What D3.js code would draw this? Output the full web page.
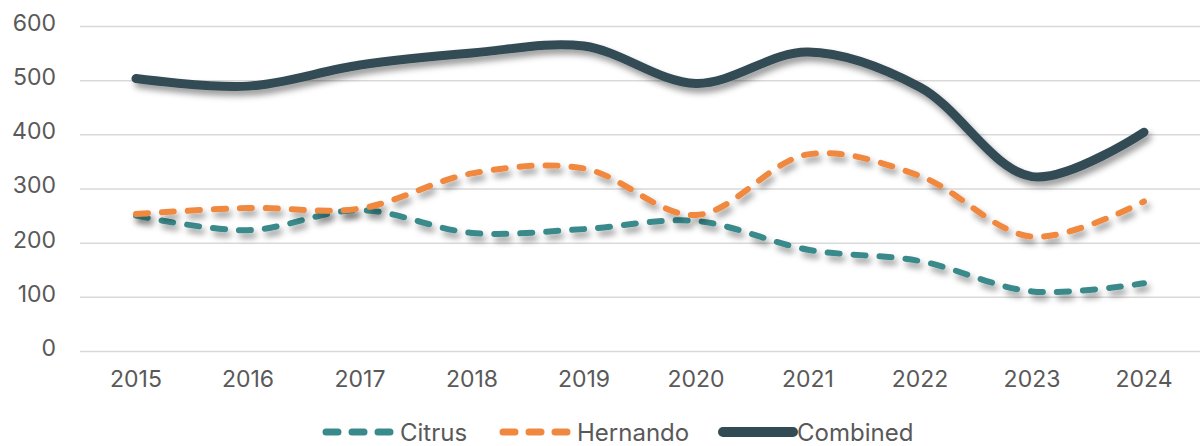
<!DOCTYPE html>
<html>
<head>
<meta charset="utf-8">
<script src="https://cdnjs.cloudflare.com/ajax/libs/d3/7.8.5/d3.min.js"></script>
<style>
  body { margin: 0; background: #fff; }
  text { font-family: Inter, "Noto Sans", sans-serif; fill: #595959; }
  .grid line { stroke: #D9D9D9; stroke-width: 1.5; }
  path.domain { display: none; }
</style>
</head>
<body>
<svg id="chart" width="1201" height="446"></svg>
<script>
var years = ["2015", "2016", "2017", "2018", "2019", "2020", "2021", "2022", "2023", "2024"];
var citrus = [250, 223, 260, 218, 225, 240, 187, 166, 110, 125];
var hernando = [253, 264, 263, 328, 337, 251, 363, 323, 211, 276];
var combined = [503, 489, 528, 550, 563, 494, 552, 487, 322, 404];
var yTicks = [0, 100, 200, 300, 400, 500, 600];

var series = [
  { name: "Citrus", values: citrus, color: "#3B8A8B", width: 6, dash: "12 14" },
  { name: "Hernando", values: hernando, color: "#F0883F", width: 6, dash: "12 14" },
  { name: "Combined", values: combined, color: "#324B55", width: 9, dash: null }
];

var svg = d3.select("#chart");

var xScale = d3.scaleBand().domain(years).range([80, 1200]);
var yScale = d3.scaleLinear().domain([0, 600]).range([351, 26]);
var cx = d => xScale(d) + xScale.bandwidth() / 2;

// drop shadow under the lines
var filter = svg.append("defs").append("filter")
  .attr("id", "shadow").attr("x", "-5%").attr("y", "-20%")
  .attr("width", "110%").attr("height", "150%");
filter.append("feDropShadow")
  .attr("dx", 3).attr("dy", 5).attr("stdDeviation", 3)
  .attr("flood-color", "#000").attr("flood-opacity", 0.4);

// gridlines
var yGrid = d3.axisLeft(yScale).tickValues(yTicks).tickSize(-1120).tickFormat("");
svg.append("g").attr("class", "grid").attr("transform", "translate(80,0)").call(yGrid);

// y labels
var yAxis = d3.axisLeft(yScale).tickValues(yTicks).tickSize(0).tickPadding(0);
svg.append("g").attr("transform", "translate(56,-3)").call(yAxis)
  .selectAll("text").style("font-size", "23px").attr("fill", "#595959");

// x labels
var xAxis = d3.axisBottom(xScale).tickSize(0).tickPadding(0);
svg.append("g").attr("transform", "translate(0,371)").call(xAxis)
  .selectAll("text").style("font-size", "23px").attr("fill", "#595959");

var line = d3.line()
  .x((d, i) => cx(years[i]))
  .y(d => yScale(d))
  .curve(d3.curveCatmullRom.alpha(0.5));

series.forEach(s => {
  svg.append("path")
    .attr("d", line(s.values))
    .attr("fill", "none")
    .attr("stroke", s.color)
    .attr("stroke-width", s.width)
    .attr("stroke-linecap", "round")
    .attr("stroke-dasharray", s.dash)
    .attr("filter", "url(#shadow)");
});

// legend
var legendX = [326, 503, 723];
var legend = svg.append("g");
series.forEach((s, i) => {
  var g = legend.append("g").attr("transform", `translate(${legendX[i]},432)`);
  g.append("line")
    .attr("x1", 0).attr("x2", 70).attr("y1", 0).attr("y2", 0)
    .attr("stroke", s.color)
    .attr("stroke-width", s.width + 1)
    .attr("stroke-linecap", "round")
    .attr("stroke-dasharray", s.dash ? "12 14" : null);
  g.append("text")
    .attr("x", 74).attr("y", 8.5)
    .style("font-size", "24px")
    .text(s.name);
});
</script>
</body>
</html>
